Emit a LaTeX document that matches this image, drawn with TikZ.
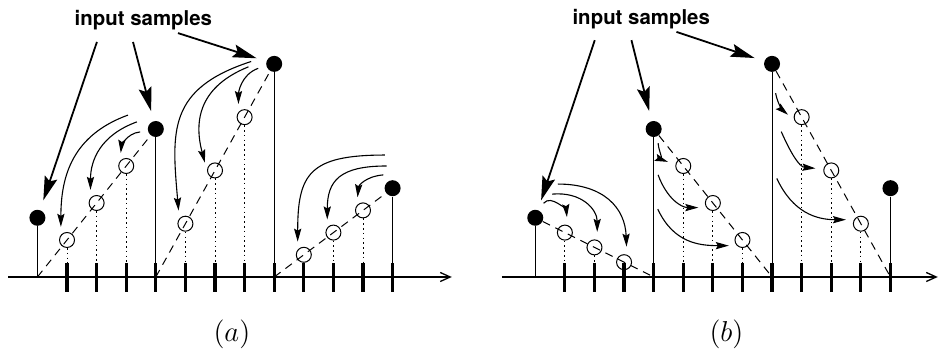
\documentclass[tikz,border=0pt]{standalone}
\usepackage{fontspec}
\setsansfont{TeX Gyre Heros}
\usetikzlibrary{arrows.meta}

\begin{document}
\begin{tikzpicture}[x=14.8pt, y=14.8pt,
    sample/.style={circle, fill=black, inner sep=0pt, minimum size=8pt},
    interp/.style={circle, draw, line width=0.5pt, inner sep=0pt, minimum size=7.5pt},
    tag/.style={font=\sffamily\bfseries\fontsize{10.2}{12}\selectfont, inner sep=0pt},
    caption/.style={font=\Large, inner sep=0pt},
    axisline/.style={line width=0.65pt, -{Straight Barb[length=5pt,width=4.5pt]}},
    tickline/.style={line width=1.6pt},
    stem/.style={line width=0.5pt},
    guide/.style={line width=0.5pt, dash pattern=on 0.8pt off 1.6pt},
    ramp/.style={line width=0.5pt, dash pattern=on 4pt off 3pt},
    hop/.style={line width=0.55pt, -{Stealth[length=6.5pt,width=3.6pt,inset=1pt]}, shorten >=4pt},
    pointer/.style={line width=0.9pt, -{Stealth[length=12pt,width=6.5pt,inset=2pt]}, shorten >=5pt}
]
    \useasboundingbox (-1.264,-2.432) rectangle (30.46,9.358);

    % (a) forward interpolation
    \coordinate (base_a0) at (0,0);
    \coordinate (axis_a_start) at (-0.99,0);
    \coordinate (axis_a_end) at (14.0,0);

    \node (sample_a0) [sample, shift={(0, 2)}] {};
    \node (sample_a1) [sample, shift={(4, 5)}] {};
    \node (sample_a2) [sample, shift={(8, 7.2)}] {};
    \node (sample_a3) [sample, shift={(12, 3)}] {};

    \node (interp_a1) [interp, shift={(1, 1.25)}] {};
    \node (interp_a2) [interp, shift={(2, 2.5)}] {};
    \node (interp_a3) [interp, shift={(3, 3.75)}] {};
    \node (interp_a5) [interp, shift={(5, 1.8)}] {};
    \node (interp_a6) [interp, shift={(6, 3.6)}] {};
    \node (interp_a7) [interp, shift={(7, 5.4)}] {};
    \node (interp_a9) [interp, shift={(9, 0.75)}] {};
    \node (interp_a10) [interp, shift={(10, 1.5)}] {};
    \node (interp_a11) [interp, shift={(11, 2.25)}] {};

    \node (label_a) [tag, shift={(3.58, 8.68)}]
    {
        input samples
    };
    \node (caption_a) [caption, shift={(6.57, -1.92)}]
    {
        $(a)$
    };

    \draw[axisline] (axis_a_start) -- (axis_a_end);
    \draw[tickline] (1,-0.5) -- (1,0.48) (2,-0.5) -- (2,0.48) (3,-0.5) -- (3,0.48)
        (4,-0.5) -- (4,0.48) (5,-0.5) -- (5,0.48) (6,-0.5) -- (6,0.48)
        (7,-0.5) -- (7,0.48) (8,-0.5) -- (8,0.48) (9,-0.5) -- (9,0.48)
        (10,-0.5) -- (10,0.48) (11,-0.5) -- (11,0.48) (12,-0.5) -- (12,0.48);

    \draw[stem] (sample_a0) -- (sample_a0 |- base_a0);
    \draw[stem] (sample_a1) -- (sample_a1 |- base_a0);
    \draw[stem] (sample_a2) -- (sample_a2 |- base_a0);
    \draw[stem] (sample_a3) -- (sample_a3 |- base_a0);

    \draw[ramp] (sample_a0 |- base_a0) -- (sample_a1);
    \draw[ramp] (sample_a1 |- base_a0) -- (sample_a2);
    \draw[ramp] (sample_a2 |- base_a0) -- (sample_a3);

    \draw[guide] (interp_a1) -- (interp_a1 |- base_a0);
    \draw[guide] (interp_a2) -- (interp_a2 |- base_a0);
    \draw[guide] (interp_a3) -- (interp_a3 |- base_a0);
    \draw[guide] (interp_a5) -- (interp_a5 |- base_a0);
    \draw[guide] (interp_a6) -- (interp_a6 |- base_a0);
    \draw[guide] (interp_a7) -- (interp_a7 |- base_a0);
    \draw[guide] (interp_a9) -- (interp_a9 |- base_a0);
    \draw[guide] (interp_a10) -- (interp_a10 |- base_a0);
    \draw[guide] (interp_a11) -- (interp_a11 |- base_a0);

    \coordinate (hop_a1) at (3.06,5.47);
    \coordinate (hop_a2) at (3.36,5.24);
    \coordinate (hop_a3) at (3.47,4.90);
    \coordinate (hop_a5) at (7.22,7.28);
    \coordinate (hop_a6) at (7.13,7.10);
    \coordinate (hop_a7) at (7.46,7.05);
    \coordinate (hop_a9) at (11.74,4.12);
    \coordinate (hop_a10) at (11.80,3.75);
    \coordinate (hop_a11) at (11.69,3.45);

    \draw[hop] (hop_a1) to[out=200, in=90, looseness=1.1] (interp_a1.140);
    \draw[hop] (hop_a2) to[out=200, in=90, looseness=1.1] (interp_a2.140);
    \draw[hop] (hop_a3) to[out=185, in=85] (interp_a3.140);
    \draw[hop] (hop_a5) to[out=198, in=95, looseness=1.3] (interp_a5.140);
    \draw[hop] (hop_a6) to[out=202, in=105, looseness=1.2] (interp_a6.west);
    \draw[hop] (hop_a7) to[out=200, in=90] (interp_a7.140);
    \draw[hop] (hop_a9) to[out=180, in=90, looseness=1.5] (interp_a9.140);
    \draw[hop] (hop_a10) to[out=180, in=90, looseness=1.4] (interp_a10.140);
    \draw[hop] (hop_a11) to[out=185, in=85, looseness=1.2] (interp_a11.140);

    \coordinate (ptr_a1) at (2.01,7.94);
    \coordinate (ptr_a2) at (3.23,7.94);
    \coordinate (ptr_a3) at (4.75,8.24);

    \draw[pointer] (ptr_a1) -- (sample_a0);
    \draw[pointer] (ptr_a2) -- (sample_a1);
    \draw[pointer] (ptr_a3) -- (sample_a2);

    % (b) backward interpolation
    \coordinate (base_b0) at (16.82,0);
    \coordinate (axis_b_start) at (15.69,0);
    \coordinate (axis_b_end) at (30.42,0);

    \node (sample_b0) [sample, shift={(16.82, 2)}] {};
    \node (sample_b1) [sample, shift={(20.82, 5)}] {};
    \node (sample_b2) [sample, shift={(24.82, 7.2)}] {};
    \node (sample_b3) [sample, shift={(28.82, 3)}] {};

    \node (interp_b1) [interp, shift={(17.82, 1.5)}] {};
    \node (interp_b2) [interp, shift={(18.82, 1.0)}] {};
    \node (interp_b3) [interp, shift={(19.82, 0.5)}] {};
    \node (interp_b5) [interp, shift={(21.82, 3.75)}] {};
    \node (interp_b6) [interp, shift={(22.82, 2.5)}] {};
    \node (interp_b7) [interp, shift={(23.82, 1.25)}] {};
    \node (interp_b9) [interp, shift={(25.82, 5.4)}] {};
    \node (interp_b10) [interp, shift={(26.82, 3.6)}] {};
    \node (interp_b11) [interp, shift={(27.82, 1.8)}] {};

    \node (label_b) [tag, shift={(20.40, 8.70)}]
    {
        input samples
    };
    \node (caption_b) [caption, shift={(23.28, -1.92)}]
    {
        $(b)$
    };

    \draw[axisline] (axis_b_start) -- (axis_b_end);
    \draw[tickline] (17.82,-0.5) -- (17.82,0.48) (18.82,-0.5) -- (18.82,0.48) (19.82,-0.5) -- (19.82,0.48)
        (20.82,-0.5) -- (20.82,0.48) (21.82,-0.5) -- (21.82,0.48) (22.82,-0.5) -- (22.82,0.48)
        (23.82,-0.5) -- (23.82,0.48) (24.82,-0.5) -- (24.82,0.48) (25.82,-0.5) -- (25.82,0.48)
        (26.82,-0.5) -- (26.82,0.48) (27.82,-0.5) -- (27.82,0.48) (28.82,-0.5) -- (28.82,0.48);

    \draw[stem] (sample_b0) -- (sample_b0 |- base_b0);
    \draw[stem] (sample_b1) -- (sample_b1 |- base_b0);
    \draw[stem] (sample_b2) -- (sample_b2 |- base_b0);
    \draw[stem] (sample_b3) -- (sample_b3 |- base_b0);

    \draw[ramp] (sample_b0) -- (sample_b1 |- base_b0);
    \draw[ramp] (sample_b1) -- (sample_b2 |- base_b0);
    \draw[ramp] (sample_b2) -- (sample_b3 |- base_b0);

    \draw[guide] (interp_b1) -- (interp_b1 |- base_b0);
    \draw[guide] (interp_b2) -- (interp_b2 |- base_b0);
    \draw[guide] (interp_b3) -- (interp_b3 |- base_b0);
    \draw[guide] (interp_b5) -- (interp_b5 |- base_b0);
    \draw[guide] (interp_b6) -- (interp_b6 |- base_b0);
    \draw[guide] (interp_b7) -- (interp_b7 |- base_b0);
    \draw[guide] (interp_b9) -- (interp_b9 |- base_b0);
    \draw[guide] (interp_b10) -- (interp_b10 |- base_b0);
    \draw[guide] (interp_b11) -- (interp_b11 |- base_b0);

    \coordinate (hop_b1) at (17.10,2.49);
    \coordinate (hop_b2) at (17.39,2.80);
    \coordinate (hop_b3) at (17.58,3.14);
    \coordinate (hop_b5) at (20.97,4.52);
    \coordinate (hop_b6) at (20.97,3.45);
    \coordinate (hop_b7) at (20.96,2.29);
    \coordinate (hop_b9) at (24.94,6.21);
    \coordinate (hop_b10) at (25.13,4.91);
    \coordinate (hop_b11) at (24.98,3.33);

    \draw[hop] (hop_b1) to[out=50, in=95] (interp_b1.70);
    \draw[hop] (hop_b2) to[out=5, in=90, looseness=1.2] (interp_b2.70);
    \draw[hop] (hop_b3) to[out=0, in=92, looseness=1.2] (interp_b3.70);
    \draw[hop] (hop_b5) to[out=275, in=160] (interp_b5.170);
    \draw[hop] (hop_b6) to[out=290, in=180, looseness=1.1] (interp_b6.215);
    \draw[hop] (hop_b7) to[out=295, in=180, looseness=1.1] (interp_b7.225);
    \draw[hop] (hop_b9) to[out=280, in=140] (interp_b9.200);
    \draw[hop] (hop_b10) to[out=294, in=175, looseness=1.1] (interp_b10.170);
    \draw[hop] (hop_b11) to[out=295, in=180, looseness=1.1] (interp_b11.150);

    \coordinate (ptr_b1) at (18.83,8.00);
    \coordinate (ptr_b2) at (20.07,8.00);
    \coordinate (ptr_b3) at (21.59,8.28);

    \draw[pointer] (ptr_b1) -- (sample_b0);
    \draw[pointer] (ptr_b2) -- (sample_b1);
    \draw[pointer] (ptr_b3) -- (sample_b2);
\end{tikzpicture}
\end{document}
